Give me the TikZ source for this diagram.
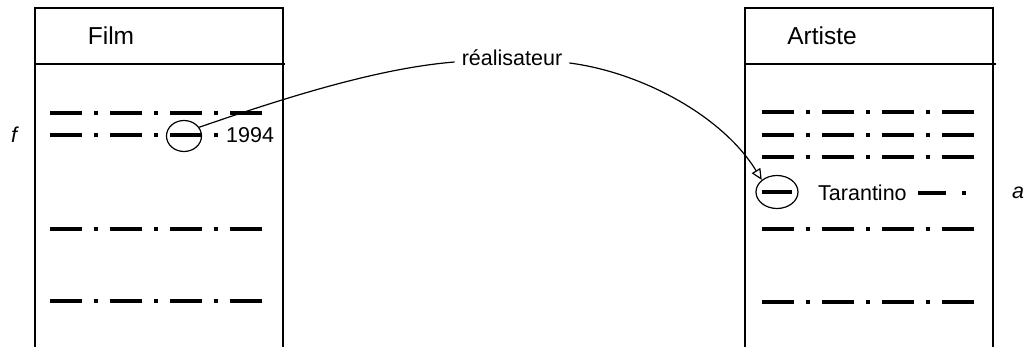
\documentclass[tikz,border=0pt]{standalone}
\usepackage{fontspec}
\setmainfont{Liberation Sans}
\usetikzlibrary{arrows.meta,shapes.geometric}
\begin{document}
\begin{tikzpicture}[x=1pt,y=-1pt,
  boxline/.style={line width=1.4pt},
  rowline/.style={line width=3.2pt,dash pattern=on 32pt off 12pt on 4pt off 12pt},
  headtxt/.style={font=\fontsize{24.5}{28}\selectfont,inner sep=0pt},
  bodytxt/.style={font=\fontsize{21.5}{25}\selectfont,inner sep=0pt},
  vartxt/.style={font=\fontsize{21.5}{25}\selectfont\itshape,inner sep=0pt},
  oval/.style={draw,ellipse,line width=1.2pt,inner sep=0pt},
  conn/.style={line width=1.2pt}]
\useasboundingbox (0,0) rectangle (1026,347);
% left box
\draw[boxline] (35,347) -- (35,8) -- (283,8) -- (283,347);
\draw[boxline] (35,64) -- (285,64);
\node[headtxt] (film) at (111,36) {Film};
% right box
\draw[boxline] (745,347) -- (745,8) -- (993,8) -- (993,347);
\draw[boxline] (745,64) -- (996,64);
\node[headtxt] (artiste) at (822,36) {Artiste};
% left rows
\draw[rowline] (50,113) -- (262,113);
\draw[rowline] (50,135) -- (218,135);
\draw[rowline] (50,229) -- (262,229);
\draw[rowline] (50,301) -- (262,301);
\node[oval,minimum width=35pt,minimum height=31pt] (e1) at (184,136) {};
\node[bodytxt,anchor=west] (y1994) at (226,135) {1994};
\node[vartxt] (f) at (14,135) {f};
% right rows
\draw[rowline] (762,112) -- (974,112);
\draw[rowline] (762,135) -- (974,135);
\draw[rowline] (762,157) -- (974,157);
\draw[rowline] (762,229) -- (974,229);
\draw[rowline] (762,302) -- (974,302);
\draw[line width=3.2pt] (762,192) -- (792,192);
\node[oval,minimum width=42pt,minimum height=33pt] (e2) at (777,192) {};
\node[bodytxt,anchor=west] (tar) at (818,193) {Tarantino};
\draw[line width=3.2pt,dash pattern=on 28pt off 16pt on 4pt off 20pt] (918,193) -- (966,193);
\node[vartxt] (a) at (1018,193) {a};
% connector
\node[bodytxt,inner xsep=7pt] (rl) at (512,58) {réalisateur};
\draw[conn] (e1.30) .. controls (290,96) and (380,68) .. ([yshift=-4pt]rl.west);
\draw[conn,-{Triangle[open,length=11pt,width=10pt]}] ([yshift=-5pt]rl.east) .. controls (640,72) and (722,115) .. (e2.north west);
\end{tikzpicture}
\end{document}
